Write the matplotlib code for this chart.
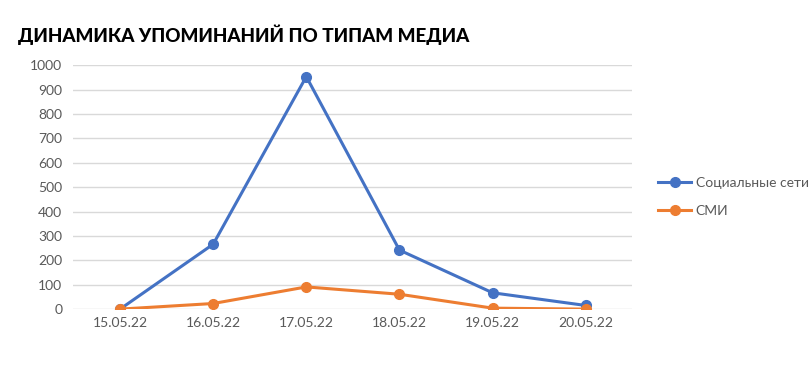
import matplotlib.pyplot as plt
import numpy as np

dates = ['15.05.22', '16.05.22', '17.05.22', '18.05.22', '19.05.22', '20.05.22']
social = [0, 266, 953, 242, 67, 15]
media = [0, 23, 91, 61, 4, 0]
labels = ['Социальные сети', 'СМИ']

plt.rcParams['font.family'] = ['Lato', 'Open Sans', 'DejaVu Sans']

fig = plt.figure(figsize=(8.11, 3.68), dpi=100)
ax = fig.add_axes([0.0906, 0.160, 0.689, 0.663])

x = np.arange(len(dates))
ax.plot(x, social, color='#4472C4', lw=2.2, marker='o', ms=7, label=labels[0], zorder=3)
ax.plot(x, media, color='#ED7D31', lw=2.2, marker='o', ms=7, label=labels[1], zorder=3)

ax.set_xlim(-0.5, len(dates) - 0.5)
ax.set_ylim(0, 1000)
ax.set_yticks(np.arange(0, 1001, 100))
ax.set_xticks(x)
ax.set_xticklabels(dates)
ax.grid(axis='y', color='#D9D9D9', lw=1)
ax.set_axisbelow(True)
for s in ax.spines.values():
    s.set_visible(False)
ax.tick_params(length=0, colors='#595959', labelsize=10, pad=6)
ax.tick_params(axis='y', pad=8)

fig.text(0.022, 0.905, 'ДИНАМИКА УПОМИНАНИЙ ПО ТИПАМ МЕДИА', fontsize=13.6,
         fontweight='black', color='black', va='center')

leg = fig.legend(loc='center left', bbox_to_anchor=(0.796, 0.465), frameon=False,
                 fontsize=10, labelspacing=1.2, handlelength=2.4, handletextpad=0.3)
for t in leg.get_texts():
    t.set_color('#595959')

fig.savefig('out.png', dpi=100)
